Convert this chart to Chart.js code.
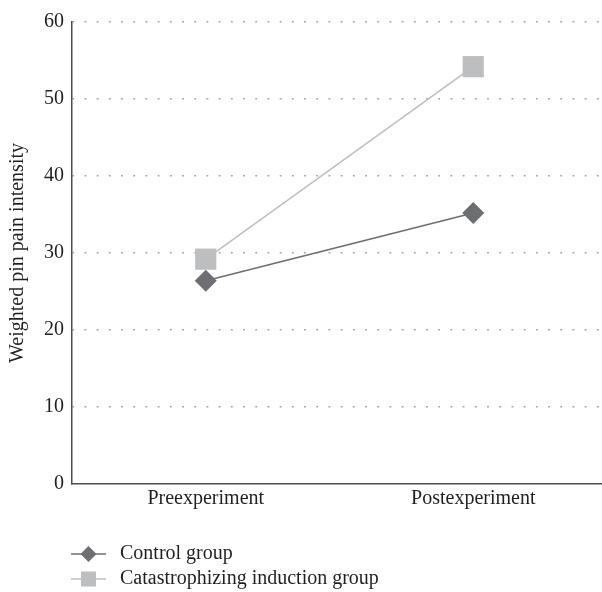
<!DOCTYPE html>
<html>
<head>
<meta charset="utf-8">
<script src="https://cdn.jsdelivr.net/npm/chart.js@4/dist/chart.umd.min.js"></script>
<style>
  html, body { margin: 0; padding: 0; background: #fff; overflow: hidden; }
  /* plot runs a few px past the right edge of the window, as in the figure */
  #wrap { width: 607px; height: 592px; position: relative; }
</style>
</head>
<body>
<div id="wrap"><canvas id="c"></canvas></div>
<script>
// Values.
const categories = ['Preexperiment', 'Postexperiment'];
const controlGroup = [26.4, 35.2];
const catastrophizingGroup = [29.2, 54.2];
const yTicks = [0, 10, 20, 30, 40, 50, 60];

const FONT = '"Liberation Serif", "DejaVu Serif", serif';
const DARK = '#6d6e71';
const LIGHT = '#bcbec0';
const TEXT = '#231f20';

// Legend drawn by hand: short line with the marker on it, stacked bottom-left.
const lineLegend = {
  id: 'lineLegend',
  afterDraw(chart) {
    const ctx = chart.ctx;
    const x0 = 71, lineLen = 35, textX = 120;
    let y = 554;
    ctx.save();
    chart.data.datasets.forEach(ds => {
      ctx.strokeStyle = ds.borderColor;
      ctx.lineWidth = 1.3;
      ctx.beginPath();
      ctx.moveTo(x0, y);
      ctx.lineTo(x0 + lineLen, y);
      ctx.stroke();
      const cx = x0 + lineLen / 2;
      ctx.fillStyle = ds.pointBackgroundColor;
      ctx.beginPath();
      if (ds.pointStyle === 'rectRot') {
        ctx.moveTo(cx, y - 8);
        ctx.lineTo(cx + 8, y);
        ctx.lineTo(cx, y + 8);
        ctx.lineTo(cx - 8, y);
        ctx.closePath();
      } else {
        ctx.rect(cx - 7.5, y - 7.5, 15, 15);
      }
      ctx.fill();
      ctx.fillStyle = TEXT;
      ctx.font = '20px ' + FONT;
      ctx.textBaseline = 'middle';
      ctx.textAlign = 'left';
      ctx.fillText(ds.label, textX, y);
      y += 25;
    });
    ctx.restore();
  }
};

new Chart(document.getElementById('c'), {
  type: 'line',
  data: {
    labels: categories,
    datasets: [{
      label: 'Control group',
      data: controlGroup,
      borderColor: DARK,
      borderWidth: 1.5,
      pointStyle: 'rectRot',
      pointRadius: 11,
      pointBackgroundColor: DARK,
      pointBorderWidth: 0,
      order: 1,
    }, {
      label: 'Catastrophizing induction group',
      data: catastrophizingGroup,
      borderColor: LIGHT,
      borderWidth: 1.5,
      pointStyle: 'rect',
      pointRadius: 15,
      pointBackgroundColor: LIGHT,
      pointBorderWidth: 0,
      order: 2,
    }],
  },
  options: {
    responsive: true,
    maintainAspectRatio: false,
    animation: false,
    layout: { autoPadding: false, padding: { top: 22, right: 0, bottom: 78, left: 6 } },
    plugins: {
      legend: { display: false },
      tooltip: { enabled: false },
    },
    scales: {
      x: {
        offset: true,
        grid: { display: false, drawTicks: false },
        border: { display: true, color: '#4d4d4f', width: 1.5 },
        ticks: { color: TEXT, font: { family: FONT, size: 20 }, padding: 3 },
      },
      y: {
        min: 0,
        max: 60,
        afterBuildTicks: axis => { axis.ticks = yTicks.map(v => ({ value: v })); },
        grid: {
          drawTicks: false,
          color: ctx => ctx.tick.value === 0 ? 'rgba(0,0,0,0)' : '#a0a2a5',
          lineWidth: 1.6,
        },
        // in v4 the grid line dash is read from border.dash
        border: { display: true, color: '#4d4d4f', width: 1.5, dash: [1.8, 10.4], dashOffset: -12 },
        ticks: { color: TEXT, font: { family: FONT, size: 20 }, padding: 8 },
        title: {
          display: true,
          text: 'Weighted pin pain intensity',
          color: TEXT,
          font: { family: FONT, size: 20 },
          padding: { top: 0, bottom: 6 },
        },
      },
    },
  },
  plugins: [lineLegend],
});
</script>
</body>
</html>
